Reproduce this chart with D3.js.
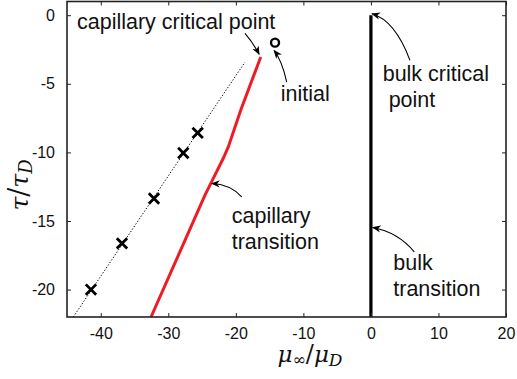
<!DOCTYPE html>
<html>
<head>
<meta charset="utf-8">
<script src="https://cdn.jsdelivr.net/npm/d3@7"></script>
<style>
  html, body { margin: 0; padding: 0; background: #fff; }
  svg { display: block; }
  text { font-family: "Liberation Sans", Arial, Helvetica, sans-serif; fill: #111; }
</style>
</head>
<body>
<svg id="chart" width="517" height="379"></svg>
<script>
// Capillary transition curve (red)
const capX = [-32.56, -24.57, -23.34, -21.86, -21.12, -19.28, -16.32];
const capY = [-22.0, -13.12, -11.90, -10.43, -9.60, -6.93, -3.05];

// Simulation points (crosses) and the dotted fit through them
const crossX = [-41.45, -36.86, -32.12, -27.78, -25.65];
const crossY = [-20.0, -16.63, -13.36, -10.04, -8.58];
const fitX = [-44.07, -18.65];
const fitY = [-22.0, -3.42];

// Bulk transition line at mu = 0
const bulkX = [0, 0];
const bulkY = [0, -22];

// Initial state
const initX = [-14.2];
const initY = [-2.0];

// Axis ticks
const xTicks = [-40, -30, -20, -10, 0, 10, 20];
const yTicks = [0, -5, -10, -15, -20];

// Annotation texts: lines, anchor (data units)
const labelLines = [["capillary critical point"], ["initial"], ["bulk critical", " point"], ["capillary", "transition"], ["bulk", "transition"]];
const labelX = [-43.52, -13.36, 1.74, -20.61, 3.31];
const labelY = [-1.04, -6.28, -4.82, -15.16, -18.58];

// Arrows: start, control, end (data units)
const arrowFromX = [-18.65, -12.47, 5.78, -19.13, 6.42];
const arrowFromY = [-1.33, -4.87, -3.29, -13.24, -17.25];
const arrowCtrlX = [-17.4, -13.17, 3.56, -20.87, 4.01];
const arrowCtrlY = [-2.05, -3.29, -0.38, -12.32, -15.81];
const arrowToX = [-16.55, -14.35, 0.16, -23.58, 0.26];
const arrowToY = [-2.85, -2.57, 0.1, -12.27, -15.47];

const svg = d3.select("#chart");
const padL = 67, padR = 506, padT = 1.5, padB = 317;

const x = d3.scaleLinear().domain([-45, 20]).range([padL, padR]);
const y = d3.scaleLinear().domain([-22, 1]).range([padB, padT]);

const defs = svg.append("defs");
defs.append("clipPath").attr("id", "plotclip")
  .append("rect").attr("x", padL).attr("y", padT).attr("width", padR - padL).attr("height", padB - padT);

defs.append("marker")
  .attr("id", "head")
  .attr("viewBox", "0 0 10 10")
  .attr("refX", 9).attr("refY", 5)
  .attr("markerWidth", 9).attr("markerHeight", 9)
  .attr("markerUnits", "userSpaceOnUse")
  .attr("orient", "auto")
  .append("path")
  .attr("d", "M0,1 L10,5 L0,9 L3,5 Z")
  .attr("fill", "#000");

const plot = svg.append("g").attr("clip-path", "url(#plotclip)");

// Dotted fit line
plot.append("path")
  .datum(d3.zip(fitX, fitY))
  .attr("d", d3.line().x(d => x(d[0])).y(d => y(d[1])))
  .attr("fill", "none")
  .attr("stroke", "#000")
  .attr("stroke-width", 1)
  .attr("stroke-dasharray", "1.3,1.8");

// Capillary transition
plot.append("path")
  .datum(d3.zip(capX, capY))
  .attr("d", d3.line().x(d => x(d[0])).y(d => y(d[1])))
  .attr("fill", "none")
  .attr("stroke", "#ee1c24")
  .attr("stroke-width", 3);

// Bulk transition
plot.append("path")
  .datum(d3.zip(bulkX, bulkY))
  .attr("d", d3.line().x(d => x(d[0])).y(d => y(d[1])))
  .attr("fill", "none")
  .attr("stroke", "#000")
  .attr("stroke-width", 3.2);

// Crosses
const cs = 5.2;
plot.selectAll("path.cross")
  .data(d3.zip(crossX, crossY))
  .join("path")
  .attr("class", "cross")
  .attr("d", d => {
    const cx = x(d[0]), cy = y(d[1]);
    return `M${cx - cs},${cy - cs}L${cx + cs},${cy + cs}M${cx - cs},${cy + cs}L${cx + cs},${cy - cs}`;
  })
  .attr("stroke", "#000")
  .attr("stroke-width", 2.8)
  .attr("fill", "none");

// Initial state circle
plot.selectAll("circle.init")
  .data(d3.zip(initX, initY))
  .join("circle")
  .attr("class", "init")
  .attr("cx", d => x(d[0]))
  .attr("cy", d => y(d[1]))
  .attr("r", 4)
  .attr("fill", "none")
  .attr("stroke", "#000")
  .attr("stroke-width", 2.4);

// Frame and ticks
const fmt = d => String(d);
const axisStyle = g => {
  g.selectAll(".domain").remove();
  g.selectAll(".tick line").attr("stroke", "#222").attr("stroke-width", 1);
  g.selectAll(".tick text").style("font-size", "16px").attr("fill", "#111")
    .style("font-family", '"Liberation Sans", Arial, sans-serif');
};
svg.append("g").attr("transform", `translate(0,${padB})`)
  .call(d3.axisBottom(x).tickValues(xTicks).tickSizeInner(-4).tickSizeOuter(0).tickPadding(11).tickFormat(fmt))
  .call(axisStyle);
svg.append("g").attr("transform", `translate(0,${padT})`)
  .call(d3.axisTop(x).tickValues(xTicks).tickSizeInner(-4).tickSizeOuter(0).tickFormat(""))
  .call(axisStyle);
svg.append("g").attr("transform", `translate(${padL},0)`)
  .call(d3.axisLeft(y).tickValues(yTicks).tickSizeInner(-4).tickSizeOuter(0).tickPadding(12).tickFormat(fmt))
  .call(axisStyle);
svg.append("g").attr("transform", `translate(${padR},0)`)
  .call(d3.axisRight(y).tickValues(yTicks).tickSizeInner(-4).tickSizeOuter(0).tickFormat(""))
  .call(axisStyle);

svg.append("rect")
  .attr("x", padL).attr("y", padT)
  .attr("width", padR - padL).attr("height", padB - padT)
  .attr("fill", "none").attr("stroke", "#222").attr("stroke-width", 1.6);

// Annotation arrows
svg.selectAll("path.arrow")
  .data(d3.range(arrowFromX.length))
  .join("path")
  .attr("class", "arrow")
  .attr("d", i => `M${x(arrowFromX[i])},${y(arrowFromY[i])}Q${x(arrowCtrlX[i])},${y(arrowCtrlY[i])} ${x(arrowToX[i])},${y(arrowToY[i])}`)
  .attr("fill", "none")
  .attr("stroke", "#000")
  .attr("stroke-width", 1.1)
  .attr("marker-end", "url(#head)");

// Annotation texts
labelLines.forEach((lines, i) => {
  const t = svg.append("text")
    .attr("x", x(labelX[i]))
    .attr("y", y(labelY[i]))
    .style("font-size", "21.5px")
    .attr("xml:space", "preserve");
  lines.forEach((ln, j) => {
    t.append("tspan")
      .attr("x", x(labelX[i]))
      .attr("dy", j === 0 ? 0 : 25.5)
      .text(ln);
  });
});

// Axis titles
const serif = '"DejaVu Serif", "Liberation Serif", serif';
const xl = svg.append("text")
  .attr("x", 310).attr("y", 362)
  .attr("text-anchor", "middle")
  .style("font-family", serif).style("font-size", "23px").attr("fill", "#333");
xl.append("tspan").style("font-style", "italic").text("μ");
xl.append("tspan").attr("dy", 3).style("font-size", "16px").text("∞");
xl.append("tspan").attr("dy", -3).style("font-size", "24px").text("/");
xl.append("tspan").style("font-style", "italic").text("μ");
xl.append("tspan").attr("dy", 4).style("font-size", "17px").style("font-style", "italic").text("D");

const yl = svg.append("text")
  .attr("transform", "translate(28,185) rotate(-90)")
  .attr("text-anchor", "middle")
  .style("font-family", serif).style("font-size", "25px").attr("fill", "#555");
yl.append("tspan").style("font-style", "italic").text("τ");
yl.append("tspan").style("font-size", "27px").text("/");
yl.append("tspan").style("font-style", "italic").text("τ");
yl.append("tspan").attr("dy", 4).style("font-size", "18px").style("font-style", "italic").text("D");
</script>
</body>
</html>
